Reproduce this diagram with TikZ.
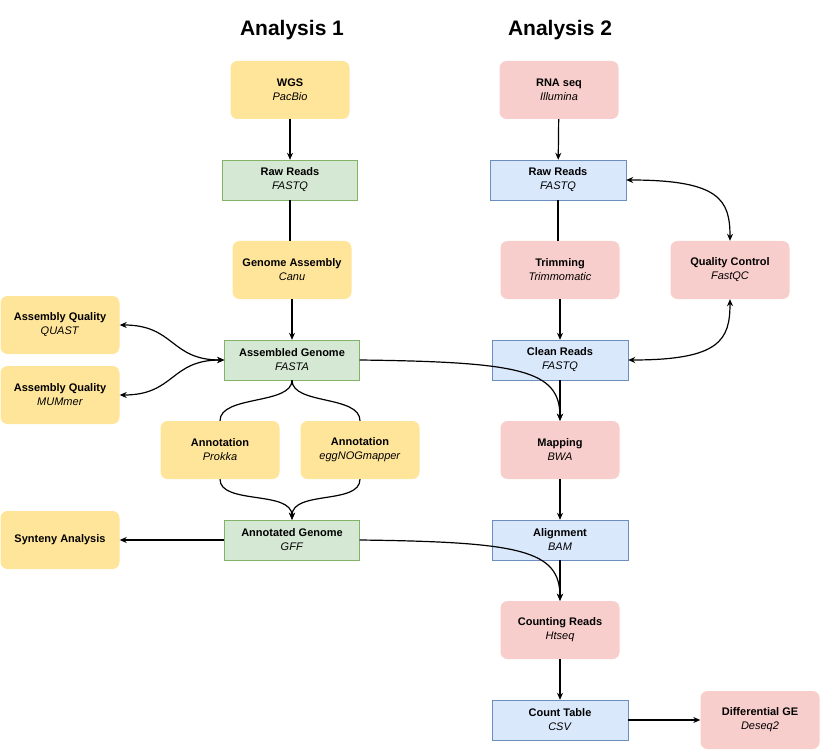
\documentclass[tikz,border=0pt]{standalone}
\usepackage{fontspec}
\setmainfont{Liberation Sans}
\usetikzlibrary{arrows.meta}
\definecolor{ylw}{HTML}{FFE599}
\definecolor{rd}{HTML}{F8CECC}
\definecolor{gf}{HTML}{D5E8D4}\definecolor{gs}{HTML}{82B366}
\definecolor{bf}{HTML}{DAE8FC}\definecolor{bs}{HTML}{6C8EBF}
\begin{document}
\begin{tikzpicture}[x=1pt,y=-1pt,
 lbl/.style={align=center,font=\fontsize{11}{14}\selectfont,inner sep=0pt},
 yb/.style={lbl,fill=ylw,rounded corners=7pt,minimum width=119pt,minimum height=58pt},
 rb/.style={lbl,fill=rd,rounded corners=7pt,minimum width=119pt,minimum height=58pt},
 gb/.style={lbl,fill=gf,draw=gs,minimum width=135pt,minimum height=40pt},
 bb/.style={lbl,fill=bf,draw=bs,minimum width=136pt,minimum height=40pt},
 ar/.style={-{Stealth[length=7pt,width=6pt]},line width=1.2pt},
 ln/.style={line width=1.2pt},
 ba/.style={{Stealth[length=7pt,width=6pt]}-{Stealth[length=7pt,width=6pt]},line width=1.2pt},
 title/.style={font=\fontsize{21}{24}\bfseries\selectfont}]
\useasboundingbox (0,0) rectangle (821,751);
\newcommand{\tx}[2]{\textbf{#1}\\\textit{#2}}
\node[title] (t1) at (292,30) {Analysis 1};
\node[title] (t2) at (560,30) {Analysis 2};
\node[yb] (wgs) at (290,90) {\tx{WGS}{PacBio}};
\node[gb] (rr1) at (290,180) {\tx{Raw Reads}{FASTQ}};
\node[yb] (ga) at (292,270) {\tx{Genome Assembly}{Canu}};
\node[gb] (ag) at (292,360) {\tx{Assembled Genome}{FASTA}};
\node[yb] (q1) at (60,325) {\tx{Assembly Quality}{QUAST}};
\node[yb] (q2) at (60,395) {\tx{Assembly Quality}{MUMmer}};
\node[yb] (an1) at (220,450) {\tx{Annotation}{Prokka}};
\node[yb] (an2) at (360,450) {\tx{Annotation}{eggNOGmapper}};
\node[gb] (ang) at (292,540) {\tx{Annotated Genome}{GFF}};
\node[yb] (syn) at (60,540) {\textbf{Synteny Analysis}};
\node[rb] (rna) at (559,90) {\tx{RNA seq}{Illumina}};
\node[bb] (rr2) at (558,180) {\tx{Raw Reads}{FASTQ}};
\node[rb] (trim) at (560,270) {\tx{Trimming}{Trimmomatic}};
\node[rb] (qc) at (730,270) {\tx{Quality Control}{FastQC}};
\node[bb] (cr) at (560,360) {\tx{Clean Reads}{FASTQ}};
\node[rb] (map) at (560,450) {\tx{Mapping}{BWA}};
\node[bb] (aln) at (560,540) {\tx{Alignment}{BAM}};
\node[rb] (cnt) at (560,630) {\tx{Counting Reads}{Htseq}};
\node[bb] (ct) at (560,720) {\tx{Count Table}{CSV}};
\node[rb] (dge) at (760,720) {\tx{Differential GE}{Deseq2}};
% analysis 1
\draw[ar] (wgs) -- (rr1);
\draw[ln] (rr1) -- (rr1|-ga.north);
\draw[ar] (ga) -- (ag);
\draw[ba] (q1.east) .. controls (175,325) and (170,360) .. (ag.west);
\draw[ba] (q2.east) .. controls (175,395) and (170,360) .. (ag.west);
\draw[ln] (ag.south) .. controls (292,405) and (220,395) .. (an1.north);
\draw[ln] (ag.south) .. controls (292,405) and (360,395) .. (an2.north);
\draw[ar] (an1.south) .. controls (220,505) and (292,490) .. (ang.north);
\draw[ar] (an2.south) .. controls (360,505) and (292,490) .. (ang.north);
\draw[ar] (ang) -- (syn);
\draw[ar] (ag.east) .. controls (520,362) and (560,370) .. (map.north);
\draw[ar] (ang.east) .. controls (520,542) and (560,550) .. (cnt.north);
% analysis 2
\draw[ar] (rna) -- (rr2);
\draw[ln] (rr2) -- (rr2|-trim.north);
\draw[ar] (trim) -- (cr);
\draw[ar] (cr) -- (map);
\draw[ar] (map) -- (aln);
\draw[ar] (aln) -- (cnt);
\draw[ar] (cnt) -- (ct);
\draw[ar] (ct) -- (dge);
\draw[ba] (rr2.east) .. controls (720,180) and (730,200) .. (qc.north);
\draw[ba] (cr.east) .. controls (720,360) and (730,340) .. (qc.south);
\end{tikzpicture}
\end{document}
